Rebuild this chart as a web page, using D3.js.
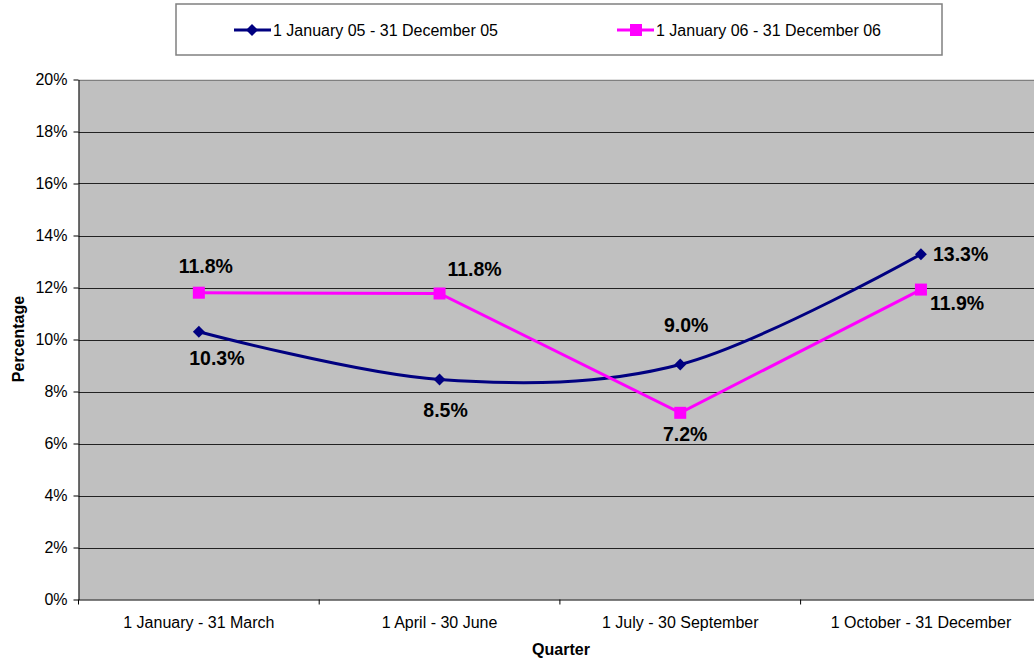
<!DOCTYPE html>
<html><head><meta charset="utf-8">
<script src="https://cdn.jsdelivr.net/npm/d3@7"></script>
<style>body{margin:0;background:#fff;} svg{display:block;font-family:"Liberation Sans",Arial,sans-serif;}</style>
</head><body><svg id="c" width="1034" height="659"></svg>
<script>
const categories = ["1 January - 31 March","1 April - 30 June","1 July - 30 September","1 October - 31 December"];
const series05 = [10.3, 8.46, 9.04, 13.28];
const series06 = [11.8, 11.77, 7.18, 11.92];
const labels05 = ["10.3%","8.5%","9.0%","13.3%"];
const labels06 = ["11.8%","11.8%","7.2%","11.9%"];
const seriesNames = ["1 January 05 - 31 December 05","1 January 06 - 31 December 06"];
const yTicks = [0,2,4,6,8,10,12,14,16,18,20];

const svg = d3.select("#c");
const L = 78.5, T = 79.5, B = 599.5, bw = 240.7;
const R = L + bw*4;
const x = d3.scaleBand().domain(categories).range([L, R]).padding(0);
const y = d3.scaleLinear().domain([0,20]).range([B, T]);

svg.append("rect").attr("x",L).attr("y",T).attr("width",R-L).attr("height",B-T).attr("fill","#c0c0c0");
svg.append("g").selectAll("line").data(yTicks.filter(d=>d>0)).join("line")
  .attr("x1",L).attr("x2",R).attr("y1",d=>Math.round(y(d))+0.5).attr("y2",d=>Math.round(y(d))+0.5)
  .attr("stroke",d=>d===20?"#808080":"#222").attr("stroke-width",1);

const yAxis = svg.append("g").attr("transform",`translate(${L},0)`)
  .call(d3.axisLeft(y).tickValues(yTicks).tickFormat(d=>d+"%").tickSize(5).tickSizeOuter(0));
yAxis.select(".domain").attr("stroke","#000");
yAxis.selectAll("text").attr("font-size",16).attr("fill","#000").attr("x",-11).attr("font-family","Liberation Sans, Arial");
const xAxis = svg.append("g").attr("transform",`translate(0,${B})`)
  .call(d3.axisBottom(x).tickSize(0).tickSizeOuter(0));
xAxis.select(".domain").attr("stroke","#000");
xAxis.selectAll("text").attr("font-size",16).attr("fill","#000").attr("dy","0").attr("y",28).attr("font-family","Liberation Sans, Arial");
svg.append("g").selectAll("line").data(d3.range(0,5)).join("line")
  .attr("x1",i=>L+i*bw).attr("x2",i=>L+i*bw).attr("y1",B).attr("y2",B+5).attr("stroke","#000");

svg.append("text").attr("transform","translate(24,339) rotate(-90)").attr("text-anchor","middle")
  .attr("font-size",16).attr("font-weight","bold").text("Percentage");
svg.append("text").attr("x",561).attr("y",655).attr("text-anchor","middle")
  .attr("font-size",16).attr("font-weight","bold").text("Quarter");

const cx = c => x(c) + x.bandwidth()/2;
const line05 = d3.line().x((d,i)=>cx(categories[i])).y(d=>y(d)).curve(d3.curveCardinal.tension(0));
const line06 = d3.line().x((d,i)=>cx(categories[i])).y(d=>y(d));
svg.append("path").attr("d",line05(series05)).attr("fill","none").attr("stroke","#000080").attr("stroke-width",3);
svg.append("path").attr("d",line06(series06)).attr("fill","none").attr("stroke","#ff00ff").attr("stroke-width",3);

svg.append("g").selectAll("path").data(series05).join("path")
  .attr("d",d3.symbol(d3.symbolDiamond2,90)).attr("fill","#000080")
  .attr("transform",(d,i)=>`translate(${cx(categories[i])},${y(d)})`);
svg.append("g").selectAll("rect").data(series06).join("rect")
  .attr("x",(d,i)=>cx(categories[i])-6).attr("y",d=>y(d)-6).attr("width",12).attr("height",12).attr("fill","#ff00ff");

const off05 = [[18,33,"middle"],[6,37,"middle"],[6,-32,"middle"],[12,7,"start"]];
const off06 = [[7,-20,"middle"],[35,-17,"middle"],[5,28,"middle"],[9,20,"start"]];
function addLabels(vals, labs, offs){
  svg.append("g").selectAll("text").data(vals).join("text")
    .attr("x",(d,i)=>cx(categories[i])+offs[i][0]).attr("y",(d,i)=>y(d)+offs[i][1])
    .attr("text-anchor",(d,i)=>offs[i][2]).attr("font-size",19.5).attr("font-weight","bold")
    .attr("fill","#000").text((d,i)=>labs[i]);
}
addLabels(series05, labels05, off05);
addLabels(series06, labels06, off06);

// legend
svg.append("rect").attr("x",176).attr("y",4).attr("width",766).attr("height",51)
  .attr("fill","#fff").attr("stroke","#808080").attr("stroke-width",1.5);
const leg = [{x:234,color:"#000080",sym:"d"},{x:617,color:"#ff00ff",sym:"s"}];
leg.forEach((l,i)=>{
  svg.append("line").attr("x1",l.x).attr("x2",l.x+37).attr("y1",30).attr("y2",30).attr("stroke",l.color).attr("stroke-width",3);
  if(l.sym==="d") svg.append("path").attr("d",d3.symbol(d3.symbolDiamond2,90)).attr("fill",l.color).attr("transform",`translate(${l.x+18},30)`);
  else svg.append("rect").attr("x",l.x+13).attr("y",24).attr("width",12).attr("height",12).attr("fill",l.color);
  svg.append("text").attr("x",l.x+39).attr("y",36).attr("font-size",16).attr("fill","#000").text(seriesNames[i]);
});
</script></body></html>
